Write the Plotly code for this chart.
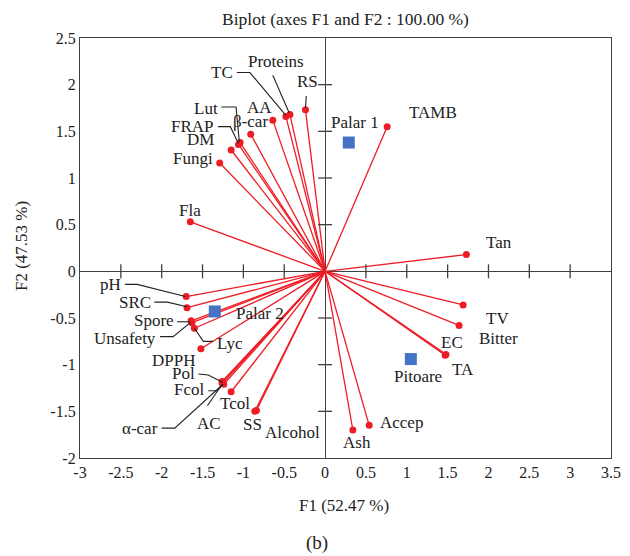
import plotly.graph_objects as go

# ---- data ----
var_names = ["Tan", "TAMB", "RS", "Proteins", "TC", "AA", "β-car", "Lut", "FRAP", "DM",
             "Fungi", "Fla", "pH", "SRC", "Spore", "Unsafety", "Lyc", "DPPH", "Pol", "Fcol",
             "α-car", "AC", "Tcol", "SS", "Alcohol", "Ash", "Accep", "TV", "EC", "TA", "Bitter"]
var_f1 = [1.73, 0.76, -0.24, -0.43, -0.48, -0.64, -0.91, -1.04, -1.06, -1.15,
          -1.29, -1.65, -1.70, -1.69, -1.64, -1.63, -1.60, -1.52, -1.26, -1.25,
          -1.24, -1.26, -1.15, -0.86, -0.84, 0.34, 0.54, 1.69, 1.64, 1.47, 1.48]
var_f2 = [0.18, 1.55, 1.73, 1.68, 1.66, 1.62, 1.47, 1.38, 1.36, 1.30,
          1.16, 0.53, -0.27, -0.39, -0.53, -0.55, -0.61, -0.83, -1.18, -1.19,
          -1.21, -1.20, -1.29, -1.50, -1.49, -1.70, -1.65, -0.36, -0.58, -0.90, -0.89]

obs_names = ["Palar 1", "Palar 2", "Pitoare"]
obs_f1 = [0.29, -1.35, 1.05]
obs_f2 = [1.38, -0.43, -0.94]

x_ticks = [-3, -2.5, -2, -1.5, -1, -0.5, 0, 0.5, 1, 1.5, 2, 2.5, 3, 3.5]
y_ticks = [-2, -1.5, -1, -0.5, 0, 0.5, 1, 1.5, 2, 2.5]

# ---- label placement (layout) ----
label_pos = {
    "TC": (-1.10, 2.13, "right"), "Proteins": (-0.6, 2.25, "center"), "RS": (-0.22, 2.03, "center"),
    "AA": (-0.8, 1.76, "center"), "β-car": (-0.91, 1.61, "center"), "Lut": (-1.29, 1.74, "right"),
    "FRAP": (-1.33, 1.55, "right"), "DM": (-1.53, 1.41, "center"), "Fungi": (-1.62, 1.21, "center"),
    "Fla": (-1.65, 0.65, "center"), "TAMB": (1.32, 1.70, "center"), "Tan": (2.13, 0.31, "center"),
    "TV": (2.11, -0.50, "center"), "Bitter": (2.12, -0.72, "center"), "EC": (1.55, -0.76, "center"),
    "TA": (1.69, -1.05, "center"), "Ash": (0.39, -1.83, "center"), "Accep": (0.94, -1.62, "center"),
    "Alcohol": (-0.40, -1.73, "center"), "SS": (-0.89, -1.64, "center"), "Tcol": (-1.10, -1.42, "center"),
    "AC": (-1.42, -1.63, "center"), "α-car": (-2.02, -1.68, "right"), "Fcol": (-1.45, -1.27, "right"),
    "Pol": (-1.57, -1.09, "right"), "DPPH": (-1.86, -0.95, "center"), "Lyc": (-1.35, -0.77, "left"),
    "Unsafety": (-2.04, -0.72, "right"), "Spore": (-1.83, -0.53, "right"), "SRC": (-2.11, -0.33, "right"),
    "pH": (-2.47, -0.14, "right"),
}
obs_label_pos = {"Palar 1": (0.37, 1.60), "Palar 2": (-0.80, -0.45), "Pitoare": (1.14, -1.13)}

leaders = [
    [(-1.08, 2.13), (-0.92, 2.13), (-0.48, 1.67)],
    [(-0.64, 2.10), (-0.44, 1.70)],
    [(-0.23, 1.88), (-0.24, 1.75)],
    [(-1.27, 1.76), (-1.09, 1.76), (-1.05, 1.39)],
    [(-1.31, 1.55), (-1.16, 1.55), (-1.06, 1.37)],
    [(-2.45, -0.14), (-2.30, -0.14), (-1.71, -0.27)],
    [(-2.09, -0.33), (-1.93, -0.33), (-1.69, -0.38)],
    [(-1.81, -0.54), (-1.65, -0.54)],
    [(-2.02, -0.70), (-1.86, -0.70), (-1.65, -0.55)],
    [(-1.37, -0.75), (-1.49, -0.75), (-1.60, -0.61)],
    [(-1.55, -1.10), (-1.43, -1.11), (-1.25, -1.19)],
    [(-1.43, -1.28), (-1.32, -1.28), (-1.25, -1.21)],
    [(-1.44, -1.44), (-1.26, -1.21)],
    [(-2.00, -1.68), (-1.84, -1.68), (-1.25, -1.21)],
]

FONT = "Liberation Serif"
TXT = "#222222"
RED = "#ee1c25"
fig = go.Figure()

# vector lines from origin
lx, ly = [], []
for a, b in zip(var_f1, var_f2):
    lx += [0, a, None]
    ly += [0, b, None]
fig.add_trace(go.Scatter(x=lx, y=ly, mode="lines", line=dict(color=RED, width=1.3),
                         hoverinfo="skip", showlegend=False))
fig.add_trace(go.Scatter(x=var_f1, y=var_f2, mode="markers", text=var_names,
                         marker=dict(color=RED, size=7), showlegend=False))

# zero-axis tick marks
inner_x = [t for t in x_ticks if t not in (x_ticks[0], x_ticks[-1], 0)]
inner_y = [t for t in y_ticks if t not in (y_ticks[0], y_ticks[-1], 0)]
fig.add_trace(go.Scatter(x=inner_x, y=[0] * len(inner_x), mode="markers",
                         marker=dict(symbol="line-ns", size=10, line=dict(color="#404040", width=1.3)),
                         hoverinfo="skip", showlegend=False))
fig.add_trace(go.Scatter(x=[0] * len(inner_y), y=inner_y, mode="markers",
                         marker=dict(symbol="line-ew", size=10, line=dict(color="#404040", width=1.3)),
                         hoverinfo="skip", showlegend=False))

# leader lines
kx, ky = [], []
for seg in leaders:
    for p in seg:
        kx.append(p[0]); ky.append(p[1])
    kx.append(None); ky.append(None)
fig.add_trace(go.Scatter(x=kx, y=ky, mode="lines", line=dict(color=TXT, width=1.1),
                         hoverinfo="skip", showlegend=False))

# observations
fig.add_trace(go.Scatter(x=obs_f1, y=obs_f2, mode="markers", text=obs_names,
                         marker=dict(symbol="square", color="#4472c4", size=12), showlegend=False))

annotations = []
for n in var_names:
    x, y, anc = label_pos[n]
    annotations.append(dict(x=x, y=y, text=n, showarrow=False, xanchor=anc, yanchor="middle",
                            font=dict(family=FONT, size=17, color=TXT)))
for n in obs_names:
    x, y = obs_label_pos[n]
    annotations.append(dict(x=x, y=y, text=n, showarrow=False, xanchor="center", yanchor="middle",
                            font=dict(family=FONT, size=17, color=TXT)))
# titles (paper coords)
annotations += [
    dict(x=0.5, y=1.045, xref="paper", yref="paper", xanchor="center", yanchor="middle",
         text="Biplot (axes F1 and F2 : 100.00 %)", showarrow=False,
         font=dict(family=FONT, size=17.5, color=TXT)),
    dict(x=0.497, y=-0.112, xref="paper", yref="paper", xanchor="center", yanchor="middle",
         text="F1 (52.47 %)", showarrow=False, font=dict(family=FONT, size=17, color=TXT)),
    dict(x=-0.109, y=0.505, xref="paper", yref="paper", xanchor="center", yanchor="middle",
         text="F2 (47.53 %)", textangle=-90, showarrow=False, font=dict(family=FONT, size=17, color=TXT)),
    dict(x=0.446, y=-0.202, xref="paper", yref="paper", xanchor="center", yanchor="middle",
         text="(b)", showarrow=False, font=dict(family=FONT, size=19, color=TXT)),
]

# page body has an 8px default margin: size the figure so it fits the 630x556 window
fig.update_layout(
    width=622, height=548,
    margin=dict(l=72, r=19, t=30, b=98, autoexpand=False),
    paper_bgcolor="white", plot_bgcolor="white",
    font=dict(family=FONT, size=16, color=TXT),
    annotations=annotations,
    xaxis=dict(range=[-3, 3.5], tickvals=x_ticks, ticktext=[f"{t:g}" for t in x_ticks],
               showgrid=False, zeroline=True, zerolinecolor="#404040", zerolinewidth=1.3,
               showline=True, mirror=True, linecolor="#404040", linewidth=1.3, ticks="",
               automargin=False, tickfont=dict(family=FONT, size=16, color=TXT)),
    yaxis=dict(range=[-2, 2.5], tickvals=y_ticks, ticktext=[f"{t:g}" for t in y_ticks],
               showgrid=False, zeroline=True, zerolinecolor="#404040", zerolinewidth=1.3,
               showline=True, mirror=True, linecolor="#404040", linewidth=1.3, ticks="",
               automargin=False, tickfont=dict(family=FONT, size=16, color=TXT)),
)

fig.write_html("out.html")
